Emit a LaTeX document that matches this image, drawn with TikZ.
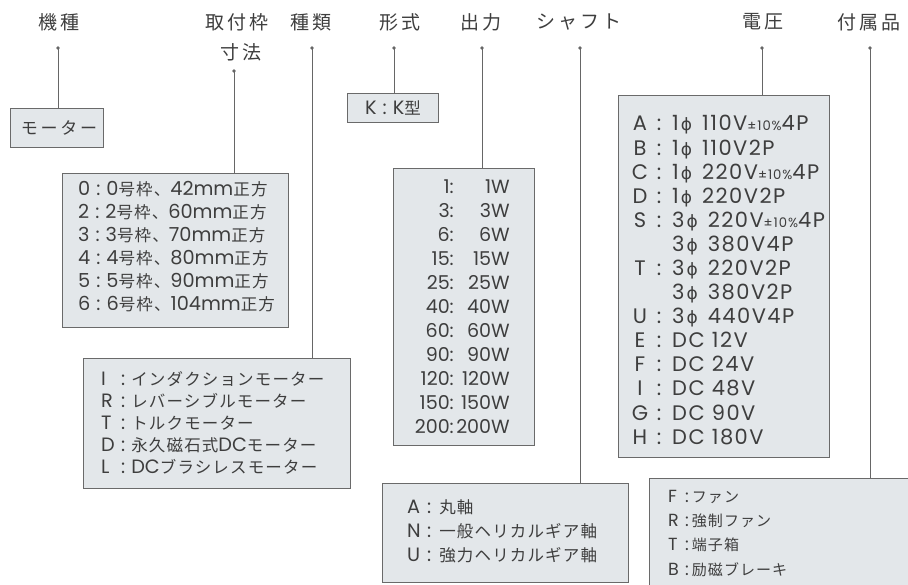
\documentclass[tikz,border=0pt]{standalone}
\usepackage{fontspec}
\setmainfont{Noto Sans CJK JP}
\newfontfamily\la[Scale=1.17]{Poppins}
\newfontfamily\lv[Scale=1.2,LetterSpace=7]{Poppins}
\newfontfamily\dv{DejaVu Sans}
\newfontfamily\hd[LetterSpace=16]{Noto Sans CJK JP}
\newfontfamily\jw[LetterSpace=7]{Noto Sans CJK JP}
\definecolor{txt}{HTML}{3E3E3E}
\definecolor{bord}{HTML}{6A6A6A}
\definecolor{boxbg}{HTML}{E3E7EA}
\definecolor{linec}{HTML}{666666}
\newcommand\ph{\hspace{2pt}{\dv\fontsize{17}{20}\selectfont ϕ}\hspace{10pt}}
\newcommand\tol{{\lv\fontsize{11}{12}\selectfont ±10\%}}
\newcommand\vrow[4]{%
  \node[vt, anchor=base] (#1l) at (640,#2) {#3};
  \node[vt, anchor=base] (#1c) at (659,#2) {:};
  \node[vt] (#1t) at (672,#2) {#4};}
\newcommand\vcont[3]{\node[vt] (#1t) at (672,#2) {#3};}
\newcommand\cl{\hspace{6pt}:\hspace{6pt}}
\begin{document}
\begin{tikzpicture}[x=1pt,y=-1pt,
  hdr/.style={font=\hd\fontsize{19}{22}\selectfont, text=txt, inner sep=0pt},
  box/.style={draw=bord, fill=boxbg, line width=1.3pt, inner sep=0pt, anchor=north west},
  conn/.style={draw=linec, line width=1pt},
  ln/.style={anchor=base west, inner sep=0pt, text=txt, font=\jw\fontsize{16.5}{20}\selectfont},
  ot/.style={anchor=base east, inner sep=0pt, text=txt, font=\la\fontsize{16.3}{20}\selectfont},
  vt/.style={anchor=base west, inner sep=0pt, text=txt, font=\lv\fontsize{17.5}{20}\selectfont},
  sm/.style={anchor=base west, inner sep=0pt, text=txt, font=\jw\fontsize{15}{18}\selectfont},
]
\useasboundingbox (0,0) rectangle (908,585);
\fill[white] (0,0) rectangle (908,585);

% headers
\node[hdr] (hKishu) at (59,22) {機種};
\node[hdr] (hTori) at (237,22) {取付枠};
\node[hdr] (hSunpo) at (241,52) {寸法};
\node[hdr] (hShurui) at (311,22) {種類};
\node[hdr] (hKeishiki) at (400,22) {形式};
\node[hdr] (hShutsu) at (481,22) {出力};
\node[hdr] (hShaft) at (579,22) {シャフト};
\node[hdr] (hDenatsu) at (763,22) {電圧};
\node[hdr] (hFuzoku) at (869,22) {付属品};

% dot coordinates
\coordinate (d1) at (58,48);
\coordinate (d2) at (234,71);
\coordinate (d3) at (312,48);
\coordinate (d4) at (394,48);
\coordinate (d5) at (482,48);
\coordinate (d6) at (580,48);
\coordinate (d7) at (762,48);
\coordinate (d8) at (870,48);

% boxes
\node[box, minimum width=93pt, minimum height=39pt] (bMotor) at (10,108) {};
\node[box, minimum width=226pt, minimum height=154pt] (bSize) at (62,173) {};
\node[box, minimum width=267pt, minimum height=130pt] (bType) at (83,358) {};
\node[box, minimum width=91pt, minimum height=29pt] (bK) at (347,93) {};
\node[box, minimum width=141pt, minimum height=277pt] (bOut) at (393,168) {};
\node[box, minimum width=246pt, minimum height=99pt] (bShaft) at (382,483) {};
\node[box, minimum width=211pt, minimum height=362pt] (bVolt) at (618,95) {};
\node[box, minimum width=280pt, minimum height=130pt] (bAcc) at (649,478) {};

% connectors
\draw[conn] (d1) -- (d1 |- bMotor.north);
\draw[conn] (d2) -- (d2 |- bSize.north);
\draw[conn] (d3) -- (d3 |- bType.north);
\draw[conn] (d4) -- (d4 |- bK.north);
\draw[conn] (d5) -- (d5 |- bOut.north);
\draw[conn] (d6) -- (d6 |- bShaft.north);
\draw[conn] (d7) -- (d7 |- bVolt.north);
\draw[conn] (d8) -- (d8 |- bAcc.north);
\foreach \d in {d1,d2,d3,d4,d5,d6,d7,d8} \fill[linec] (\d) circle (1.8pt);

% motor
\node[anchor=center, inner sep=0pt, text=txt, font=\hd\fontsize{17}{20}\selectfont] (tMotor) at (59,128) {モーター};

% K
\node[anchor=center, inner sep=0pt, text=txt, font=\jw\fontsize{16.5}{20}\selectfont] (tK) at (393,108) {{\la K\cl K}型};

% size box
\node[ln] (s0) at (78,196) {{\la 0\cl 0}号枠、{\la 42mm}正方};
\node[ln] (s2) at (78,219) {{\la 2\cl 2}号枠、{\la 60mm}正方};
\node[ln] (s3) at (78,242) {{\la 3\cl 3}号枠、{\la 70mm}正方};
\node[ln] (s4) at (78,265) {{\la 4\cl 4}号枠、{\la 80mm}正方};
\node[ln] (s5) at (78,288) {{\la 5\cl 5}号枠、{\la 90mm}正方};
\node[ln] (s6) at (78,311) {{\la 6\cl 6}号枠、{\la 104mm}正方};

% type box
\node[ln] (tI) at (101,385) {\makebox[20pt][l]{\la I}{\la :}\hspace{6pt}インダクションモーター};
\node[ln] (tR) at (101,407) {\makebox[20pt][l]{\la R}{\la :}\hspace{6pt}レバーシブルモーター};
\node[ln] (tT) at (101,429) {\makebox[20pt][l]{\la T}{\la :}\hspace{6pt}トルクモーター};
\node[ln] (tD) at (101,451) {\makebox[20pt][l]{\la D}{\la :}\hspace{6pt}永久磁石式{\la DC}モーター};
\node[ln] (tL) at (101,473) {\makebox[20pt][l]{\la L}{\la :}\hspace{6pt}{\la DC}ブラシレスモーター};

% output box
\foreach \a/\b [count=\i from 0] in {1/1W,3/3W,6/6W,15/15W,25/25W,40/40W,60/60W,90/90W,120/120W,150/150W,200/200W}{
  \node[ot] (oa\i) at (454,{194+23.9*\i}) {\a:};
  \node[ot] (ob\i) at (510,{194+23.9*\i}) {\b};
}

% shaft box
\node[ln] (shA) at (407,513) {\makebox[20pt][l]{\la A}{\la :}\hspace{8pt}丸軸};
\node[ln] (shN) at (407,537) {\makebox[20pt][l]{\la N}{\la :}\hspace{8pt}一般ヘリカルギア軸};
\node[ln] (shU) at (407,561) {\makebox[20pt][l]{\la U}{\la :}\hspace{8pt}強力ヘリカルギア軸};

% voltage box
\vrow{vA}{131}{A}{1\ph 110V\tol 4P}
\vrow{vB}{155.1}{B}{1\ph 110V2P}
\vrow{vC}{179.2}{C}{1\ph 220V\tol 4P}
\vrow{vD}{203.2}{D}{1\ph 220V2P}
\vrow{vS}{227.3}{S}{3\ph 220V\tol 4P}
\vcont{vS2}{251.4}{3\ph 380V4P}
\vrow{vT}{275.5}{T}{3\ph 220V2P}
\vcont{vT2}{299.6}{3\ph 380V2P}
\vrow{vU}{323.6}{U}{3\ph 440V4P}
\vrow{vE}{347.7}{E}{DC 12V}
\vrow{vF}{371.8}{F}{DC 24V}
\vrow{vI}{395.9}{I}{DC 48V}
\vrow{vG}{420}{G}{DC 90V}
\vrow{vH}{444}{H}{DC 180V}

% accessory box
\node[sm] (aF) at (668,502) {\makebox[17pt][l]{\la F}{\la :}\hspace{3pt}ファン};
\node[sm] (aR) at (668,526) {\makebox[17pt][l]{\la R}{\la :}\hspace{3pt}強制ファン};
\node[sm] (aT) at (668,550) {\makebox[17pt][l]{\la T}{\la :}\hspace{3pt}端子箱};
\node[sm] (aB) at (668,575) {\makebox[17pt][l]{\la B}{\la :}\hspace{3pt}励磁ブレーキ};
\end{tikzpicture}
\end{document}
